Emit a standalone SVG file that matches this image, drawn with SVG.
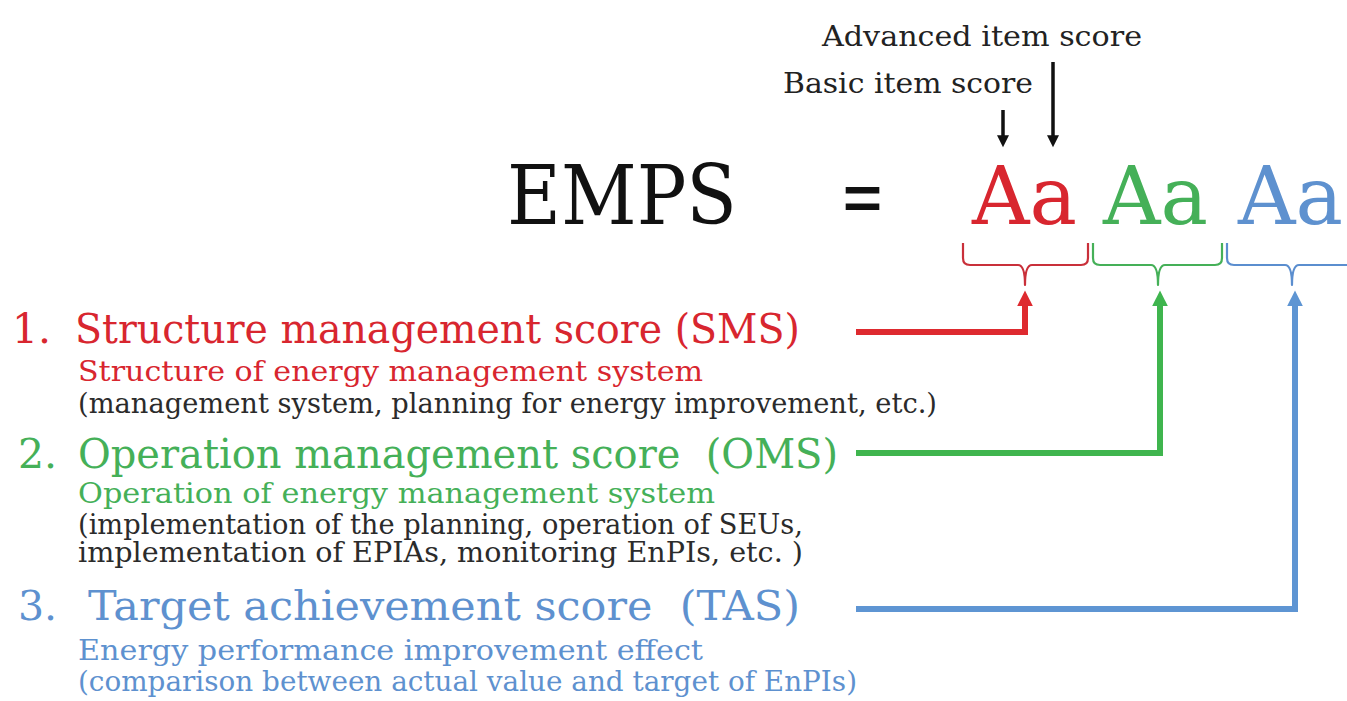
<svg xmlns="http://www.w3.org/2000/svg" width="1347" height="701" viewBox="0 0 1347 701">
<defs>
<style>
text{font-family:"DejaVu Serif","Liberation Serif",serif;}
.big{font-size:82px;fill:#111;}
.aa{font-size:80px;}
.lbl{font-size:27px;fill:#222;}
.h{font-size:41px;}
.s{font-size:27px;}
.g{fill:#2b2b2b;}
.red{fill:#d8262f;}
.grn{fill:#45b058;}
.blu{fill:#5e91cf;}
.brace{fill:none;stroke-width:2.2;stroke-linejoin:round;}
.conn{fill:none;stroke-width:6;}
</style>
<marker id="hr" viewBox="0 0 10 10" refX="4" refY="5" markerWidth="16" markerHeight="20" markerUnits="userSpaceOnUse" orient="auto"><path d="M0,0 L10,5 L0,10 Z" fill="#de2a2f"/></marker>
<marker id="hg" viewBox="0 0 10 10" refX="4" refY="5" markerWidth="16" markerHeight="20" markerUnits="userSpaceOnUse" orient="auto"><path d="M0,0 L10,5 L0,10 Z" fill="#3fb54e"/></marker>
<marker id="hb" viewBox="0 0 10 10" refX="4" refY="5" markerWidth="16" markerHeight="20" markerUnits="userSpaceOnUse" orient="auto"><path d="M0,0 L10,5 L0,10 Z" fill="#5e95d3"/></marker>
<marker id="hk" viewBox="0 0 10 10" refX="4" refY="5" markerWidth="13" markerHeight="12" markerUnits="userSpaceOnUse" orient="auto"><path d="M0,0 L10,5 L0,10 Z" fill="#111"/></marker>
</defs>
<rect width="1347" height="701" fill="#ffffff"/>

<g id="labels">
<text class="lbl" x="822" y="46" textLength="320" lengthAdjust="spacingAndGlyphs">Advanced item score</text>
<text class="lbl" x="783" y="93" textLength="250" lengthAdjust="spacingAndGlyphs">Basic item score</text>
</g>

<g id="equation">
<text class="big" x="507" y="224" textLength="230" lengthAdjust="spacingAndGlyphs">EMPS</text>
<text class="big" x="840" y="224" textLength="45" lengthAdjust="spacingAndGlyphs">=</text>
<text class="aa red" x="972" y="224" textLength="105" lengthAdjust="spacingAndGlyphs">Aa</text>
<text class="aa grn" x="1103" y="224" textLength="105" lengthAdjust="spacingAndGlyphs">Aa</text>
<text class="aa blu" x="1238" y="224" textLength="105" lengthAdjust="spacingAndGlyphs">Aa</text>
</g>

<g id="braces">
<path class="brace" stroke="#c9303a" d="M963,243 V258 Q963,265 970,265 H1018 Q1025,265 1025,285 Q1025,265 1032,265 H1081 Q1088,265 1088,258 V243"/>
<path class="brace" stroke="#45b058" d="M1093,243 V258 Q1093,265 1100,265 H1151 Q1158,265 1158,285 Q1158,265 1165,265 H1215 Q1222,265 1222,258 V243"/>
<path class="brace" stroke="#5b8ecf" d="M1227,243 V258 Q1227,265 1234,265 H1285 Q1292,265 1292,285 Q1292,265 1299,265 H1350"/>
</g>

<g id="item1">
<text class="h red" y="343"><tspan x="12">1.</tspan><tspan x="75" textLength="725" lengthAdjust="spacingAndGlyphs">Structure management score (SMS)</tspan></text>
<text class="s red" x="78" y="381" textLength="625" lengthAdjust="spacingAndGlyphs">Structure of energy management system</text>
<text class="s g" x="78" y="413" textLength="859" lengthAdjust="spacingAndGlyphs">(management system, planning for energy improvement, etc.)</text>
</g>

<g id="item2">
<text class="h grn" y="468"><tspan x="18">2.</tspan><tspan x="78" textLength="760" lengthAdjust="spacingAndGlyphs" xml:space="preserve">Operation management score  (OMS)</tspan></text>
<text class="s grn" x="78" y="503" textLength="637" lengthAdjust="spacingAndGlyphs">Operation of energy management system</text>
<text class="s g" x="78" y="534" textLength="725" lengthAdjust="spacingAndGlyphs">(implementation of the planning, operation of SEUs,</text>
<text class="s g" x="78" y="562" textLength="725" lengthAdjust="spacingAndGlyphs">implementation of EPIAs, monitoring EnPIs, etc. )</text>
</g>

<g id="item3">
<text class="h blu" y="620"><tspan x="18">3.</tspan><tspan x="88" textLength="712" lengthAdjust="spacingAndGlyphs" xml:space="preserve">Target achievement score  (TAS)</tspan></text>
<text class="s blu" x="78" y="660" textLength="625" lengthAdjust="spacingAndGlyphs">Energy performance improvement effect</text>
<text class="s blu" x="78" y="691" textLength="779" lengthAdjust="spacingAndGlyphs">(comparison between actual value and target of EnPIs)</text>
</g>

<g id="connectors">
<line x1="1003" y1="110" x2="1003" y2="140" stroke="#111" stroke-width="3.5" marker-end="url(#hk)"/>
<line x1="1053" y1="62" x2="1053" y2="140" stroke="#111" stroke-width="3.5" marker-end="url(#hk)"/>
<path class="conn" stroke="#de2a2f" d="M856,332 H1025 V300" marker-end="url(#hr)"/>
<path class="conn" stroke="#3fb54e" d="M856,453 H1160 V300" marker-end="url(#hg)"/>
<path class="conn" stroke="#5e95d3" d="M856,609 H1295 V300" marker-end="url(#hb)"/>
</g>
</svg>
